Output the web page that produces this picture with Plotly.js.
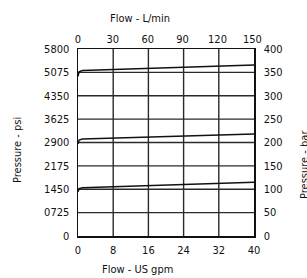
<!DOCTYPE html>
<html><head><meta charset="utf-8">
<script src="https://cdn.plot.ly/plotly-3.0.1.min.js"></script>
<style>html,body{margin:0;padding:0;background:#fff}#c{width:307px;height:278px}</style>
</head><body><div id="c"></div>
<script>
const flowGpm = [0, 0.25, 1, 40];
const curve350 = [4950, 5090, 5130, 5305];
const curve200 = [2860, 2975, 3005, 3160];
const curve100 = [1375, 1470, 1498, 1666];
const psiTicks = [0, 725, 1450, 2175, 2900, 3625, 4350, 5075, 5800];
const psiLabels = ["0", "0725", "1450", "2175", "2900", "3625", "4350", "5075", "5800"];
const gpmTicks = [0, 8, 16, 24, 32, 40];
const lpmTicks = [0, 30, 60, 90, 120, 150];
const barTicks = [0, 50, 100, 150, 200, 250, 300, 350, 400];

const F = "'Liberation Sans Narrow', 'DejaVu Sans Condensed', sans-serif";
const line = {color: '#111', width: 1.5};
const traces = [curve350, curve200, curve100].map(y => ({
  x: flowGpm, y: y, type: 'scatter', mode: 'lines', line: line, hoverinfo: 'skip', showlegend: false
}));
traces.push({x: [0, 151.4], y: [0, 400], xaxis: 'x2', yaxis: 'y2', type: 'scatter', mode: 'markers',
  marker: {opacity: 0}, hoverinfo: 'skip', showlegend: false});

const ax = {showline: true, linecolor: '#111', linewidth: 1.5, showgrid: false,
  zeroline: false, ticks: '', tickfont: {family: F, size: 11, color: '#111'}, fixedrange: true};

const gridStyle = {color: '#2a2a2a', width: 1.4};
const shapes = [];
gpmTicks.slice(1, -1).forEach(v => shapes.push({type: 'line', xref: 'x', yref: 'paper', x0: v, x1: v, y0: 0, y1: 1, line: gridStyle, layer: 'below'}));
psiTicks.slice(1, -1).forEach(v => shapes.push({type: 'line', xref: 'paper', yref: 'y', x0: 0, x1: 1, y0: v, y1: v, line: gridStyle, layer: 'below'}));

const layout = {
  width: 307, height: 278,
  margin: {l: 78, r: 53, t: 49, b: 42},
  paper_bgcolor: '#fff', plot_bgcolor: '#fff',
  font: {family: F, size: 11, color: '#111'},
  xaxis: Object.assign({}, ax, {range: [0, 40], tickvals: gpmTicks, ticktext: gpmTicks.map(String), mirror: true, ticklabelstandoff: 3}),
  yaxis: Object.assign({}, ax, {range: [0, 5800], tickvals: psiTicks, ticktext: psiLabels, mirror: true, ticklabelstandoff: 5}),
  xaxis2: Object.assign({}, ax, {range: [0, 151.4], tickvals: lpmTicks, ticktext: lpmTicks.map(String), overlaying: 'x', anchor: 'y2', side: 'top', ticklabelstandoff: 0}),
  yaxis2: Object.assign({}, ax, {range: [0, 400], tickvals: barTicks, ticktext: barTicks.map(String), overlaying: 'y', anchor: 'x2', side: 'right', ticklabelstandoff: 6}),
  shapes: shapes,
  annotations: [
    {text: 'Flow - L/min', xref: 'paper', yref: 'paper', xanchor: 'center', yanchor: 'middle', x: (140-78)/176, y: 1 + (49-18)/187, showarrow: false, font: {family: F, size: 11}},
    {text: 'Flow - US gpm', xref: 'paper', yref: 'paper', xanchor: 'center', yanchor: 'middle', x: (137-78)/176, y: -(269-236)/187, showarrow: false, font: {family: F, size: 11}},
    {text: 'Pressure - psi', xref: 'paper', yref: 'paper', xanchor: 'center', yanchor: 'middle', x: -(78-17)/176, y: (236-150)/187, textangle: -90, showarrow: false, font: {family: F, size: 11}},
    {text: 'Pressure - bar', xref: 'paper', yref: 'paper', xanchor: 'center', yanchor: 'middle', x: 1 + (304-254)/176, y: (236-165)/187, textangle: -90, showarrow: false, font: {family: F, size: 11}}
  ]
};
Plotly.newPlot('c', traces, layout, {staticPlot: true, displayModeBar: false});
</script></body></html>
